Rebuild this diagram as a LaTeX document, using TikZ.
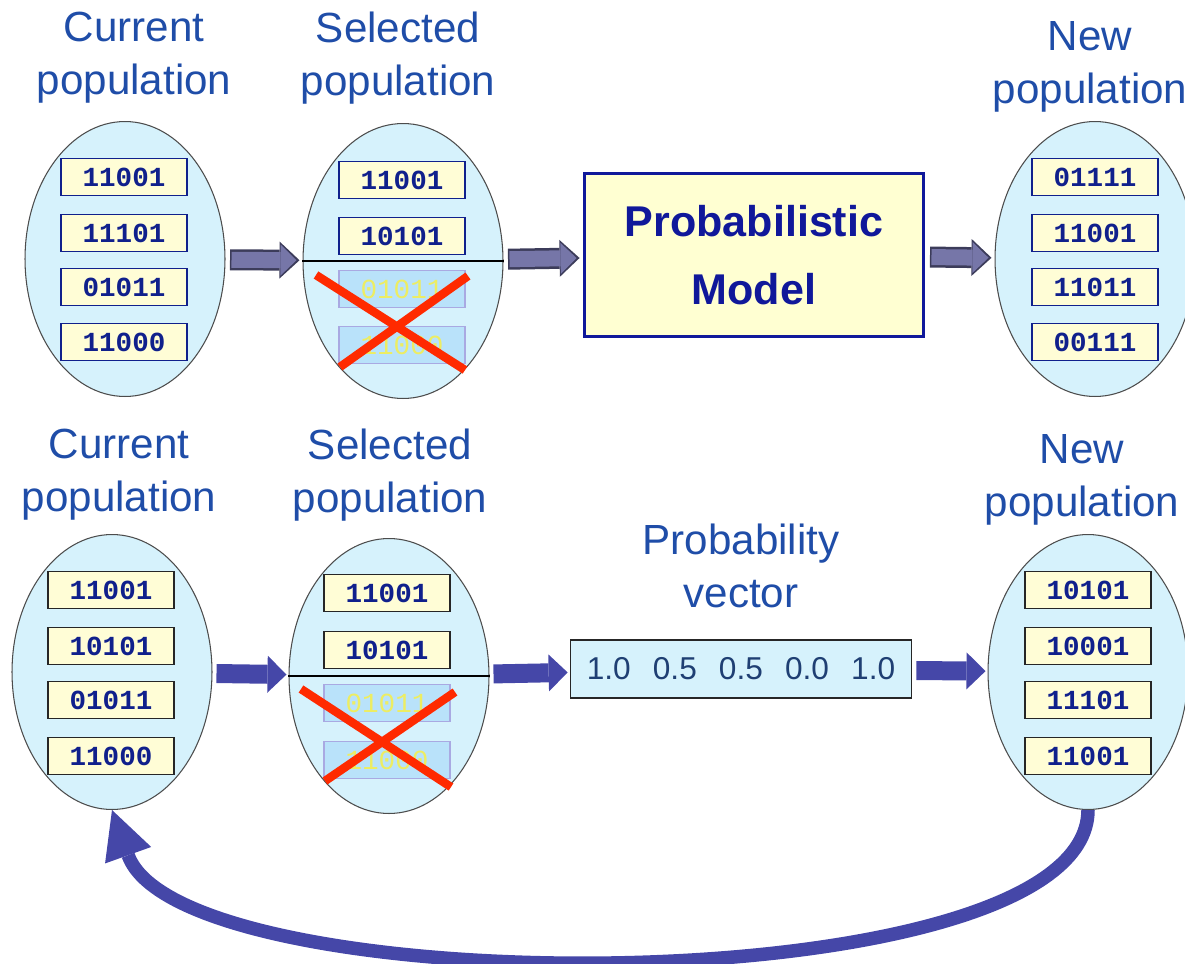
\documentclass[tikz,border=0pt]{standalone}
\usepackage{fontspec}
\setmainfont{Liberation Sans}
\newfontfamily\bitsfont{Liberation Mono}
\usepackage{tikz}
\usetikzlibrary{arrows.meta}
\usetikzlibrary{shapes.geometric}
\usetikzlibrary{positioning}

\definecolor{titleblue}{HTML}{1F4DA8}
\definecolor{popfill}{HTML}{D6F2FC}
\definecolor{bitfill}{HTML}{FFFDD6}
\definecolor{bitnavy}{HTML}{10208C}
\definecolor{modelfill}{HTML}{FFFFD2}
\definecolor{modelblue}{HTML}{10189A}
\definecolor{greyarrow}{HTML}{7676A8}
\definecolor{greyedge}{HTML}{3C3C5A}
\definecolor{bluearrow}{HTML}{4547A8}
\definecolor{dropfill}{HTML}{B9E2FA}
\definecolor{dropedge}{HTML}{A9A9E2}
\definecolor{dropbits}{HTML}{EDED62}
\definecolor{crossred}{HTML}{FF2A00}
\definecolor{vectext}{HTML}{1F3F73}

\tikzset{
  pop/.style={ellipse, draw=black!70, line width=0.6pt, fill=popfill,
              minimum width=4cm, minimum height=5.5cm, inner sep=0pt},
  bits/.style={draw=bitnavy, line width=1pt, fill=bitfill, inner sep=0pt,
               minimum width=2.52cm, minimum height=0.74cm, text=bitnavy,
               font=\bitsfont\bfseries\fontsize{15.7}{16}\selectfont},
  bitsk/.style={bits, draw=black!85},
  dropped/.style={bits, draw=dropedge, fill=dropfill, text=dropbits,
                  font=\bitsfont\fontsize{15.7}{16}\selectfont},
  poptitle/.style={align=center, text=titleblue,
                   font=\fontsize{24}{30}\selectfont},
  crossout/.style={draw=crossred, line width=0.17cm},
  loopflow/.style={draw=bluearrow, line width=0.27cm,
                   -{Triangle[length=0.96cm, width=0.98cm, line width=0pt]}}
}

\begin{document}
\begin{tikzpicture}[x=0.02cm, y=-0.02cm]
	\useasboundingbox (0,0) rectangle (1185,963);

	% titles
	\node[poptitle] (tcur1) at (134,58) {Current\\population};
	\node[poptitle] (tsel1) at (398,58) {Selected\\population};
	\node[poptitle] (tnew1) at (1090,67) {New\\population};
	\node[poptitle] (tcur2) at (119,475) {Current\\population};
	\node[poptitle] (tsel2) at (390,475) {Selected\\population};
	\node[poptitle] (tvec) at (741,566) {Probability\\vector};
	\node[poptitle] (tnew2) at (1082,480) {New\\population};

	% populations
	\node[pop] (cur1) at (125,259) {};
	\node[pop] (sel1) at (403,261) {};
	\node[pop] (new1) at (1095,259) {};
	\node[pop] (cur2) at (112,672) {};
	\node[pop] (sel2) at (389,676) {};
	\node[pop] (new2) at (1088,672) {};

	\draw[line width=0.8pt] (sel1.west) -- (sel1.east);
	\draw[line width=0.8pt] (sel2.west) -- (sel2.east);

	\node[draw=modelblue, line width=1.7pt, fill=modelfill, text=modelblue,
	      minimum width=6.8cm, minimum height=3.28cm, align=center,
	      font=\bfseries\fontsize{24.5}{38.5}\selectfont] (model) at (754,255)
	      {Probabilistic\\Model};
	\node[draw=black!85, line width=1pt, fill=popfill, text=vectext,
	      minimum width=6.82cm, minimum height=1.16cm,
	      font=\fontsize{18}{20}\selectfont] (vec) at (741,669)
	      {1.0\hspace{0.7em}0.5\hspace{0.7em}0.5\hspace{0.7em}0.0\hspace{0.7em}1.0};

	% individuals, top row
	\begin{scope}[every node/.style={bits}]
		\node (c11) at (124,177) {11001};
		\node (c12) at (124,233) {11101};
		\node (c13) at (124,287) {01011};
		\node (c14) at (124,342) {11000};
		\node (s11) at (402,180) {11001};
		\node (s12) at (402,236) {10101};
		\node (n11) at (1095,177) {01111};
		\node (n12) at (1095,233) {11001};
		\node (n13) at (1095,287) {11011};
		\node (n14) at (1095,342) {00111};
	\end{scope}

	% individuals, bottom row
	\begin{scope}[every node/.style={bitsk}]
		\node (c21) at (111,590) {11001};
		\node (c22) at (111,646) {10101};
		\node (c23) at (111,700) {01011};
		\node (c24) at (111,756) {11000};
		\node (s21) at (387,593) {11001};
		\node (s22) at (387,650) {10101};
		\node (n21) at (1088,590) {10101};
		\node (n22) at (1088,646) {10001};
		\node (n23) at (1088,700) {11101};
		\node (n24) at (1088,756) {11001};
	\end{scope}

	% thrown away
	\begin{scope}[every node/.style={dropped}]
		\node (s13) at (402,289) {01011};
		\node (s14) at (402,345) {11000};
		\node (s23) at (387,703) {01011};
		\node (s24) at (387,760) {11000};
	\end{scope}
	\draw[crossout] (316,275) -- (465,370) (468,276) -- (340,367);
	\draw[crossout] (301,689) -- (451,787) (455,692) -- (325,781);

	% grey arrows with a dark rim
	\begin{scope}[>={Triangle[length=0.4cm, width=0.74cm, line width=0pt]},
	              every edge/.style={draw=greyedge, line width=0.42cm, ->,
	                                 shorten <=0.09cm, shorten >=0.06cm}]
		\path (cur1) edge (sel1);
		\path (sel1) edge (model);
		\path (model) edge (new1);
	\end{scope}
	\begin{scope}[>={Triangle[length=0.32cm, width=0.62cm, line width=0pt]},
	              every edge/.style={draw=greyarrow, line width=0.32cm, ->,
	                                 shorten <=0.12cm, shorten >=0.12cm}]
		\path (cur1) edge (sel1);
		\path (sel1) edge (model);
		\path (model) edge (new1);
	\end{scope}

	\begin{scope}[>={Triangle[length=0.38cm, width=0.74cm, line width=0pt]},
	              every edge/.style={draw=bluearrow, line width=0.38cm, ->,
	                                 shorten <=0.08cm, shorten >=0.04cm}]
		\path (cur2) edge (sel2);
		\path (sel2) edge (vec);
		\path (vec) edge (new2);
	\end{scope}

	\draw[loopflow] (new2.south) .. controls +(0,196) and +(70,196) .. (cur2.south);
\end{tikzpicture}
\end{document}
